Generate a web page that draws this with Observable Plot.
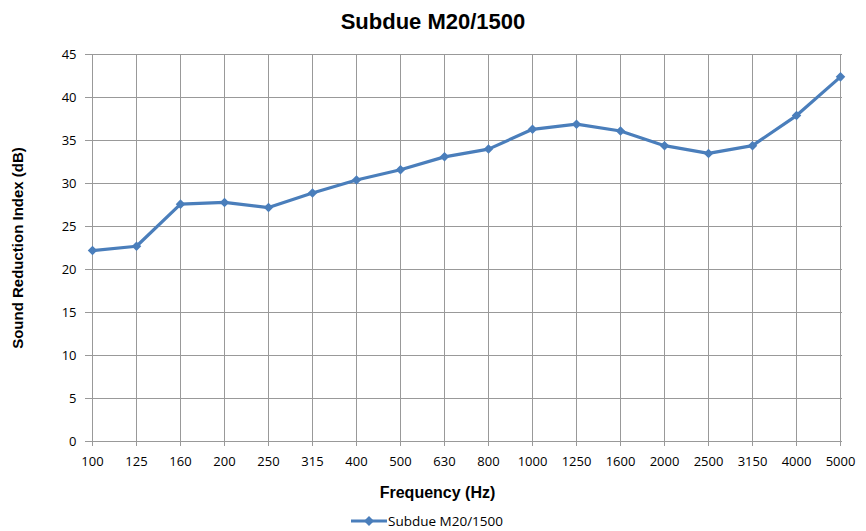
<!DOCTYPE html>
<html>
<head>
<meta charset="utf-8">
<script src="https://cdn.jsdelivr.net/npm/d3@7"></script>
<script src="https://cdn.jsdelivr.net/npm/@observablehq/plot@0.6"></script>
<style>
  html, body { margin: 0; padding: 0; background: #fff; overflow: hidden; }
  #wrap { width: 866px; height: 531px; }
  #title { height: 40px; line-height: 44px; text-align: center; font-family: "Liberation Sans", Arial, sans-serif; font-weight: bold; font-size: 22px; color: #000; }
  #legend { height: 23px; line-height: 23px; padding-top: 2px; padding-right: 12px; text-align: center; font-family: "Open Sans", sans-serif; font-size: 13.5px; color: #000; }
  #legend svg { vertical-align: middle; margin-right: 1px; position: relative; top: -1px; }
  .axislab text { font-family: "Liberation Sans", Arial, sans-serif; font-weight: bold; }
</style>
</head>
<body>
<div id="wrap">
  <div id="title"></div>
  <div id="chart"></div>
  <div id="legend"></div>
</div>
<script>
const chartTitle = "Subdue M20/1500";
const seriesName = "Subdue M20/1500";
const xLabel = "Frequency (Hz)";
const yLabel = "Sound Reduction Index (dB)";
const frequencies = ["100","125","160","200","250","315","400","500","630","800","1000","1250","1600","2000","2500","3150","4000","5000"];
const sri = [22.2, 22.7, 27.6, 27.8, 27.2, 28.9, 30.4, 31.6, 33.1, 34.0, 36.3, 36.9, 36.1, 34.4, 33.5, 34.4, 37.9, 42.4];
const yTicks = [0, 5, 10, 15, 20, 25, 30, 35, 40, 45];

const rows = frequencies.map((f, i) => ({frequency: f, sri: sri[i]}));
const blue = "#4a7ebb";
const grid = "#999999";

document.getElementById("title").textContent = chartTitle;

const chart = Plot.plot({
  width: 866,
  height: 468,
  marginTop: 14,
  marginBottom: 67,
  marginLeft: 90,
  marginRight: 24,
  style: {fontFamily: "'Open Sans', sans-serif", fontSize: "13px", color: "#000", background: "#fff"},
  x: {type: "point", domain: frequencies, padding: 0},
  y: {domain: [0, 45]},
  marks: [
    Plot.gridY(yTicks, {stroke: grid, strokeOpacity: 1, strokeWidth: 1}),
    Plot.gridX(frequencies, {stroke: grid, strokeOpacity: 1, strokeWidth: 1}),
    Plot.axisY(yTicks, {tickSize: 5, tickPadding: 9, stroke: grid, label: null, fill: "#000"}),
    Plot.axisX(frequencies, {tickSize: 5, tickPadding: 10, stroke: grid, label: null, fill: "#000"}),
    Plot.text([xLabel], {frameAnchor: "bottom", textAnchor: "middle", lineAnchor: "middle", dy: 51, dx: -29, fontSize: 16, fontWeight: "bold", className: "axislab"}),
    Plot.text([yLabel], {frameAnchor: "left", textAnchor: "middle", lineAnchor: "middle", dx: -72, rotate: -90, fontSize: 15, fontWeight: "bold", className: "axislab"}),
    Plot.line(rows, {x: "frequency", y: "sri", stroke: blue, strokeWidth: 3.2}),
    Plot.dot(rows, {x: "frequency", y: "sri", symbol: "diamond2", r: 4.3, fill: blue, stroke: "none"})
  ]
});
document.getElementById("chart").appendChild(chart);

const legend = document.getElementById("legend");
legend.innerHTML = `<svg width="36" height="12"><line x1="0" y1="6" x2="36" y2="6" stroke="${blue}" stroke-width="3"/><polygon points="18,1 23,6 18,11 13,6" fill="${blue}"/></svg><span></span>`;
legend.querySelector("span").textContent = seriesName;
</script>
</body>
</html>
